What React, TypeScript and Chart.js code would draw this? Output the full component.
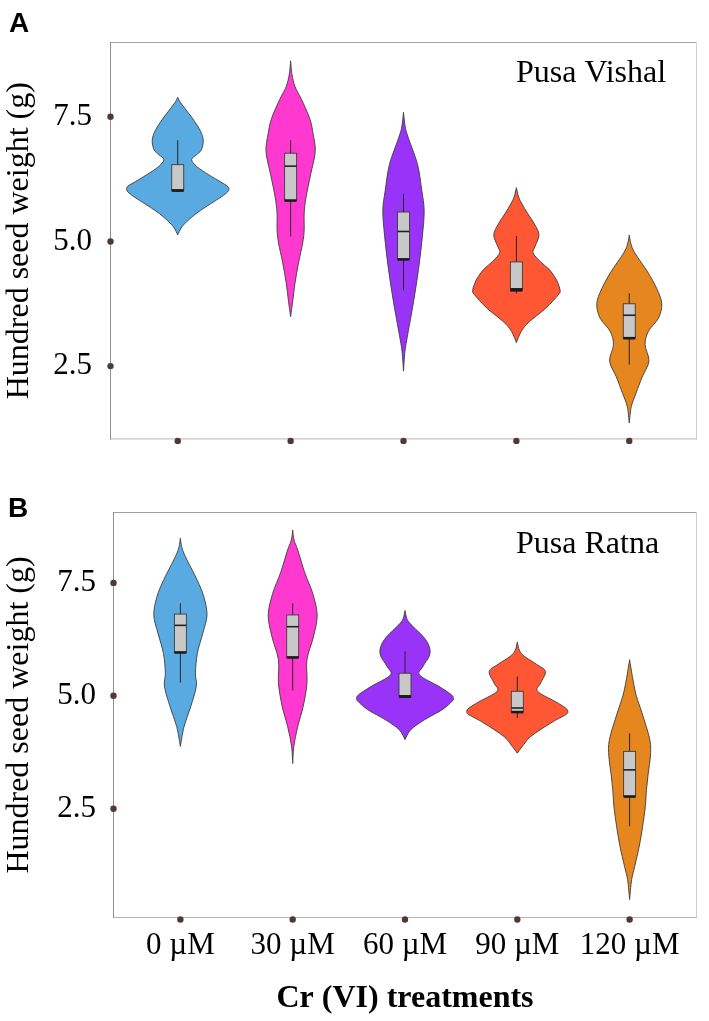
import React, { useEffect, useRef } from "react";
import { Chart, registerables } from "chart.js";

Chart.register(...registerables);

// ---------- data ----------
const categories = ["0 µM", "30 µM", "60 µM", "90 µM", "120 µM"];
const yTickValues = [2.5, 5.0, 7.5];
const xAxisTitle = "Cr (VI) treatments";
const yAxisTitle = "Hundred seed weight (g)";

// violin density profiles: [seed weight, half-width in category units]
const vishal0 = [[5.13,0],[5.3,0.04],[5.49,0.125],[5.62,0.2],[5.75,0.288],[5.9,0.39],[5.99,0.44],[6.05,0.453],[6.11,0.44],[6.2,0.375],[6.34,0.273],[6.5,0.17],[6.64,0.123],[6.74,0.167],[6.84,0.21],[7.03,0.226],[7.22,0.2],[7.46,0.133],[7.66,0.066],[7.8,0.02],[7.89,0]];
const vishal30 = [[3.49,0],[3.79,0.018],[4.18,0.04],[4.57,0.07],[4.97,0.107],[5.23,0.12],[5.56,0.12],[5.89,0.137],[6.34,0.177],[6.8,0.218],[7.15,0.2],[7.46,0.17],[7.85,0.096],[8.1,0.04],[8.35,0.012],[8.62,0]];
const vishal60 = [[2.4,0],[2.8,0.013],[3.13,0.037],[3.79,0.089],[4.44,0.133],[5.1,0.167],[5.62,0.183],[6.02,0.162],[6.54,0.125],[7.07,0.044],[7.3,0.015],[7.59,0]];
const vishal90 = [[2.97,0],[3.2,0.044],[3.39,0.115],[3.66,0.26],[3.94,0.375],[4.02,0.387],[4.12,0.375],[4.25,0.35],[4.44,0.29],[4.6,0.21],[4.77,0.148],[4.9,0.165],[5.13,0.2],[5.35,0.16],[5.56,0.1],[5.75,0.05],[5.89,0.02],[6.08,0]];
const vishal120 = [[1.36,0],[1.69,0.018],[1.95,0.059],[2.28,0.114],[2.6,0.174],[2.93,0.14],[3.2,0.17],[3.46,0.258],[3.75,0.288],[4.05,0.244],[4.38,0.165],[4.77,0.049],[4.95,0.015],[5.13,0]];

const ratna0 = [[3.88,0],[4.32,0.033],[4.76,0.092],[5.21,0.142],[5.5,0.134],[5.94,0.151],[6.39,0.2],[6.79,0.237],[7.2,0.208],[7.57,0.148],[8.08,0.045],[8.3,0.012],[8.49,0]];
const ratna30 = [[3.5,0],[3.88,0.01],[4.32,0.045],[4.76,0.093],[5.28,0.127],[5.8,0.127],[6.31,0.185],[6.79,0.218],[7.27,0.178],[7.71,0.11],[8.23,0.045],[8.45,0.012],[8.67,0]];
const ratna60 = [[4.03,0],[4.25,0.052],[4.47,0.174],[4.69,0.33],[4.88,0.42],[4.95,0.43],[5.03,0.41],[5.21,0.3],[5.46,0.13],[5.65,0.16],[5.94,0.223],[6.24,0.185],[6.61,0.042],[6.75,0.012],[6.89,0]];
const ratna90 = [[3.73,0],[3.88,0.045],[4.1,0.12],[4.4,0.3],[4.58,0.43],[4.65,0.45],[4.73,0.43],[4.87,0.34],[5.1,0.18],[5.28,0.207],[5.54,0.25],[5.7,0.17],[5.87,0.065],[6.0,0.02],[6.19,0]];
const ratna120 = [[0.49,0],[0.93,0.018],[1.22,0.045],[1.67,0.086],[2.11,0.116],[2.55,0.14],[2.92,0.15],[3.29,0.166],[3.66,0.185],[4.03,0.18],[4.62,0.11],[5.0,0.06],[5.35,0.03],[5.8,0]];

// box stats: [lower whisker, Q1, median, Q3, upper whisker]
const vishalBoxes = [
  [5.99, 6.02, 6.03, 6.54, 7.03],
  [5.1, 5.82, 6.51, 6.77, 7.03],
  [4.02, 4.64, 5.2, 5.59, 5.95],
  [3.96, 4.02, 4.05, 4.59, 5.11],
  [2.53, 3.06, 3.52, 3.75, 3.96],
];
const ratnaBoxes = [
  [5.29, 5.96, 6.56, 6.81, 7.05],
  [5.12, 5.85, 6.53, 6.79, 7.05],
  [4.95, 4.98, 5.0, 5.5, 5.98],
  [4.51, 4.64, 4.73, 5.1, 5.43],
  [2.11, 2.77, 3.36, 3.77, 4.17],
];

// ---------- style ----------
const fillColors = ["#5aaae2", "#ff38d0", "#9a33f8", "#ff5733", "#e6861f"];
const SERIF = "'Liberation Serif', 'Times New Roman', serif";
const SANS = "'Liberation Sans', Arial, sans-serif";
const W = 709;

type Profile = number[][];

function sidePath(ctx: CanvasRenderingContext2D, pts: number[][], move: boolean) {
  const n = pts.length;
  if (move) ctx.moveTo(pts[0][0], pts[0][1]);
  else ctx.lineTo(pts[0][0], pts[0][1]);
  for (let i = 0; i < n - 1; i++) {
    const p0 = pts[Math.max(i - 1, 0)];
    const p1 = pts[i];
    const p2 = pts[i + 1];
    const p3 = pts[Math.min(i + 2, n - 1)];
    const c1x = p1[0] + (p2[0] - p0[0]) / 6;
    const c1y = p1[1] + (p2[1] - p0[1]) / 6;
    const c2x = p2[0] - (p3[0] - p1[0]) / 6;
    const c2y = p2[1] - (p3[1] - p1[1]) / 6;
    ctx.bezierCurveTo(c1x, c1y, c2x, c2y, p2[0], p2[1]);
  }
}

interface PanelProps {
  top: number;
  height: number;
  area: { left: number; top: number; right: number; bottom: number };
  yMin: number;
  yMax: number;
  tickPad: number;
  letter: string;
  letterPos: [number, number];
  cultivar: string;
  cultivarPos: [number, number];
  violins: Profile[];
  boxes: number[][];
  showX: boolean;
}

function Panel(p: PanelProps) {
  const ref = useRef<HTMLCanvasElement>(null);
  useEffect(() => {
    if (!ref.current) return;
    const decor = {
      id: "violinDecor",
      afterDatasetsDraw(chart: any) {
        const { ctx, chartArea: ca, scales } = chart;
        const xs = scales.x;
        const ys = scales.y;
        ctx.save();
        // panel frame
        ctx.lineWidth = 1;
        ctx.strokeStyle = "#a0a0a0";
        ctx.beginPath();
        ctx.moveTo(ca.left, ca.top + 0.5);
        ctx.lineTo(ca.right, ca.top + 0.5);
        ctx.stroke();
        ctx.strokeStyle = "#cfcfcf";
        ctx.beginPath();
        ctx.moveTo(ca.right - 0.5, ca.top);
        ctx.lineTo(ca.right - 0.5, ca.bottom);
        ctx.stroke();
        ctx.strokeStyle = "#b4b4b4";
        ctx.beginPath();
        ctx.moveTo(ca.left, ca.bottom - 0.5);
        ctx.lineTo(ca.right, ca.bottom - 0.5);
        ctx.stroke();
        ctx.strokeStyle = "#8e8e8e";
        ctx.beginPath();
        ctx.moveTo(ca.left + 0.5, ca.top);
        ctx.lineTo(ca.left + 0.5, ca.bottom);
        ctx.stroke();

        // violins
        p.violins.forEach((prof, i) => {
          const c = i + 1;
          const right = prof.map(([v, w]) => [xs.getPixelForValue(c + w), ys.getPixelForValue(v)]);
          const left = prof
            .slice()
            .reverse()
            .map(([v, w]) => [xs.getPixelForValue(c - w), ys.getPixelForValue(v)]);
          ctx.beginPath();
          sidePath(ctx, right, true);
          sidePath(ctx, left, false);
          ctx.closePath();
          ctx.fillStyle = fillColors[i];
          ctx.fill();
          ctx.lineWidth = 0.9;
          ctx.strokeStyle = "#3c3c3c";
          ctx.stroke();
        });

        // box plots
        const half = 6;
        p.boxes.forEach((b, i) => {
          const cx = xs.getPixelForValue(i + 1);
          const [wl, q1, med, q3, wh] = b.map((v) => ys.getPixelForValue(v));
          ctx.strokeStyle = "#262626";
          ctx.lineWidth = 1;
          ctx.beginPath();
          ctx.moveTo(cx, wl);
          ctx.lineTo(cx, wh);
          ctx.stroke();
          ctx.fillStyle = "#c8c8c8";
          ctx.fillRect(cx - half, q3, half * 2, q1 - q3);
          ctx.lineWidth = 0.9;
          ctx.strokeStyle = "#3a3a3a";
          ctx.strokeRect(cx - half, q3, half * 2, q1 - q3);
          ctx.lineWidth = 1.6;
          ctx.strokeStyle = "#222";
          ctx.beginPath();
          ctx.moveTo(cx - half, med);
          ctx.lineTo(cx + half, med);
          ctx.stroke();
          ctx.lineWidth = 2.6;
          ctx.strokeStyle = "#1a1a1a";
          ctx.beginPath();
          ctx.moveTo(cx - half, q1);
          ctx.lineTo(cx + half, q1);
          ctx.stroke();
        });

        // tick dots
        ctx.fillStyle = "#4e3a30";
        yTickValues.forEach((v) => {
          ctx.beginPath();
          ctx.arc(ca.left + 0.5, ys.getPixelForValue(v), 3.2, 0, Math.PI * 2);
          ctx.fill();
        });
        categories.forEach((_, i) => {
          ctx.beginPath();
          ctx.arc(xs.getPixelForValue(i + 1), ca.bottom + 1.5, 3.2, 0, Math.PI * 2);
          ctx.fill();
        });

        // texts
        ctx.fillStyle = "#000";
        ctx.textBaseline = "alphabetic";
        ctx.textAlign = "left";
        ctx.font = `bold 28px ${SANS}`;
        ctx.fillText(p.letter, p.letterPos[0], p.letterPos[1]);
        ctx.font = `32px ${SERIF}`;
        ctx.fillText(p.cultivar, p.cultivarPos[0], p.cultivarPos[1]);
        ctx.restore();
      },
    };

    const medians = p.boxes.map((b, i) => ({ x: i + 1, y: b[2] }));
    const chart = new Chart(ref.current, {
      type: "scatter",
      data: {
        datasets: [{ data: medians, pointRadius: 0, showLine: false }],
      },
      options: {
        animation: false,
        responsive: false,
        maintainAspectRatio: false,
        events: [],
        layout: {
          padding: { left: 0, top: p.area.top, right: W - p.area.right, bottom: 0 },
        },
        plugins: { legend: { display: false }, tooltip: { enabled: false } },
        scales: {
          x: {
            type: "linear",
            min: 0.4,
            max: 5.6,
            grid: { display: false, drawTicks: false },
            border: { display: false },
            afterBuildTicks: (s: any) => {
              s.ticks = categories.map((_, i) => ({ value: i + 1 }));
            },
            ticks: {
              display: p.showX,
              autoSkip: false,
              maxRotation: 0,
              padding: 9,
              color: "#000",
              font: { family: SERIF, size: 31 },
              callback: (v: any) => categories[Math.round(Number(v)) - 1] ?? "",
            },
            title: {
              display: p.showX,
              text: xAxisTitle,
              color: "#000",
              font: { family: SERIF, size: 32, weight: "bold" },
              padding: { top: 0, bottom: 3 },
            },
            afterFit: (s: any) => {
              s.height = p.height - p.area.bottom;
            },
          },
          y: {
            type: "linear",
            min: p.yMin,
            max: p.yMax,
            grid: { display: false, drawTicks: false },
            border: { display: false },
            afterBuildTicks: (s: any) => {
              s.ticks = yTickValues.map((v) => ({ value: v }));
            },
            ticks: {
              padding: p.tickPad,
              color: "#000",
              font: { family: SERIF, size: 31 },
              callback: (v: any) => Number(v).toFixed(1),
            },
            title: {
              display: true,
              text: yAxisTitle,
              color: "#000",
              font: { family: SERIF, size: 32 },
              padding: { top: 0, bottom: 0 },
            },
            afterFit: (s: any) => {
              s.width = p.area.left;
            },
          },
        },
      } as any,
      plugins: [decor],
    });
    return () => chart.destroy();
  }, []);
  return (
    <canvas
      ref={ref}
      width={W}
      height={p.height}
      style={{ position: "absolute", left: 0, top: p.top, width: W, height: p.height }}
    />
  );
}

export default function App() {
  return (
    <div
      style={{
        position: "absolute",
        left: 0,
        top: 0,
        width: W,
        height: 1021,
        background: "#fff",
        overflow: "hidden",
      }}
    >
      <Panel
        top={0}
        height={476}
        area={{ left: 110, top: 42, right: 697, bottom: 447 }}
        yMin={1.03}
        yMax={9.0}
        tickPad={18}
        letter="A"
        letterPos={[9, 32]}
        cultivar="Pusa Vishal"
        cultivarPos={[516, 82]}
        violins={[vishal0, vishal30, vishal60, vishal90, vishal120]}
        boxes={vishalBoxes}
        showX={false}
      />
      <Panel
        top={476}
        height={545}
        area={{ left: 113, top: 36, right: 697, bottom: 442 }}
        yMin={0.08}
        yMax={9.07}
        tickPad={17}
        letter="B"
        letterPos={[8, 41]}
        cultivar="Pusa Ratna"
        cultivarPos={[516, 77]}
        violins={[ratna0, ratna30, ratna60, ratna90, ratna120]}
        boxes={ratnaBoxes}
        showX={true}
      />
    </div>
  );
}
